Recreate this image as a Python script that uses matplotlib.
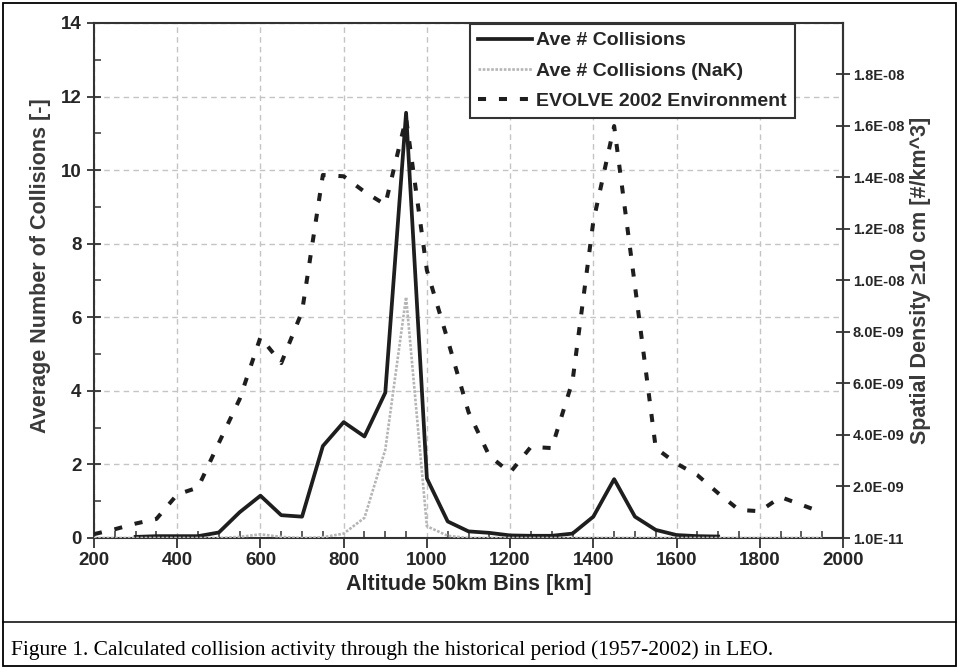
import matplotlib
matplotlib.use('Agg')
import matplotlib.pyplot as plt
import numpy as np
from matplotlib.lines import Line2D
from matplotlib.patches import Rectangle
from matplotlib.ticker import FixedLocator, FuncFormatter, MultipleLocator

# altitude bins (km)
altitude = list(range(200, 2000, 50))

# average number of collisions per bin (nan = not drawn)
ave_collisions = [np.nan, np.nan, 0.03, 0.05, 0.05, 0.05, 0.15, 0.7, 1.15, 0.62,
                  0.58, 2.5, 3.15, 2.76, 3.95, 11.56, 1.62, 0.45, 0.18, 0.14,
                  0.07, 0.06, 0.06, 0.12, 0.58, 1.6, 0.58, 0.22, 0.08, 0.05,
                  0.04, np.nan, np.nan, np.nan, np.nan, np.nan]

# average number of collisions, NaK
ave_collisions_nak = [0, 0, 0, 0, 0, 0, 0, 0.03, 0.1, 0.03,
                      0, 0.02, 0.12, 0.55, 2.4, 6.55, 0.32, 0.06, 0, 0,
                      0, 0, 0, 0, 0, 0, 0, 0, 0, 0,
                      0, 0, 0, 0, 0, 0]

# EVOLVE 2002 spatial density (x 1e-9 #/km^3)
evolve_density = [0.16, 0.35, 0.57, 0.75, 1.7, 1.97, 3.7, 5.4, 7.8, 6.8,
                  8.8, 14.1, 14.05, 13.45, 12.95, 16.3, 10.4, 7.7, 4.9, 3.2,
                  2.55, 3.55, 3.5, 6.1, 12.3, 16.0, 9.8, 3.5, 2.9, 2.45,
                  1.75, 1.1, 1.05, 1.6, 1.3, 1.0]

labels = ['Ave # Collisions', 'Ave # Collisions (NaK)', 'EVOLVE 2002 Environment']

plt.rcParams['font.family'] = ['Liberation Sans', 'DejaVu Sans']
txt = '#262626'

fig = plt.figure(figsize=(9.59, 6.69), dpi=100)
ax = fig.add_axes([94/959, 1 - 538/669, (843 - 94)/959, (538 - 23)/669])
ax2 = ax.twinx()

l1, = ax.plot(altitude, ave_collisions, color='#1e1e1e', lw=2.7, zorder=2.2)
l2, = ax.plot(altitude, ave_collisions_nak, color='#b5b5b5', lw=1.9,
              linestyle=(0, (1, 0.6)), zorder=3)
dens = [v * 1e-9 for v in evolve_density]
l3, = ax2.plot(altitude, dens, color='#1e1e1e', lw=2.9, linestyle=(0, (2.0, 3.2)))

ax.set_xlim(200, 2000)
ax.set_ylim(0, 14)
ax.xaxis.set_major_locator(MultipleLocator(200))
ax.xaxis.set_minor_locator(MultipleLocator(50))
ax.yaxis.set_major_locator(MultipleLocator(2))
ax.yaxis.set_minor_locator(MultipleLocator(1))
ax.grid(True, which='major', color='#c4c4c4', linestyle=(0, (4, 3)), lw=1)
ax.set_axisbelow(True)

ax.tick_params(axis='x', which='major', direction='out', length=7, width=1.3,
               color='#333333', labelsize=13.5, labelcolor=txt, pad=3)
ax.tick_params(axis='x', which='minor', direction='in', length=5, width=1.1, color='#333333')
ax.tick_params(axis='y', which='major', direction='inout', length=10, width=1.3,
               color='#333333', labelsize=13.5, labelcolor=txt, pad=4)
ax.tick_params(axis='y', which='minor', direction='in', length=5, width=1.1, color='#333333')
for t in ax.get_xticklabels() + ax.get_yticklabels():
    t.set_fontweight('bold')

ax2.set_ylim(1e-11, 2e-8)
ax2.yaxis.set_major_locator(FixedLocator([1e-11 + 2e-9 * k for k in range(10)]))
ax2.yaxis.set_major_formatter(FuncFormatter(lambda v, p: '%.1E' % v))
ax2.tick_params(axis='y', direction='inout', length=10, width=1.3, color='#333333',
                labelsize=10.5, labelcolor=txt, pad=2)
for t in ax2.get_yticklabels():
    t.set_fontweight('bold')
for s in ['bottom', 'left', 'top']:
    ax2.spines[s].set_visible(False)
for s in ax.spines.values():
    s.set_linewidth(1.5)
    s.set_color('#333333')
ax2.spines['right'].set_linewidth(1.5)
ax2.spines['right'].set_color('#333333')

ax.set_xlabel('Altitude 50km Bins [km]', fontsize=15.5, fontweight='bold', color=txt, labelpad=4)
ax.set_ylabel('Average Number of Collisions [-]', fontsize=15.5, fontweight='bold', color='#3a3a3a')
ax.yaxis.set_label_coords(-0.057, 0.528)
ax2.set_ylabel('Spatial Density \u226510 cm [#/km^3]', fontsize=15.5, fontweight='bold',
               color='#3a3a3a', labelpad=4)

leg = ax2.legend([l1, l2, l3], labels, loc='upper left',
                 bbox_to_anchor=(470/959, 1 - 24/669), bbox_transform=fig.transFigure,
                 prop={'weight': 'bold', 'size': 14}, fancybox=False, framealpha=1,
                 edgecolor='#333333', handlelength=2.8, handletextpad=0.2,
                 labelspacing=0.65, borderpad=0.4, borderaxespad=0)
leg.get_frame().set_linewidth(1.5)
for t in leg.get_texts():
    t.set_color(txt)

# caption and frame
fig.add_artist(Rectangle((3/959, 3/669), 953/959, 663/669, transform=fig.transFigure,
                         fill=False, lw=1.3, edgecolor='black'))
fig.add_artist(Line2D([3/959, 956/959], [1 - 622/669] * 2, transform=fig.transFigure,
                      lw=1.1, color='black'))
fig.text(11/959, 1 - 650/669,
         'Figure 1. Calculated collision activity through the historical period (1957-2002) in LEO.',
         family='Liberation Serif', fontsize=15.5, va='center', ha='left')

fig.savefig('out.png', dpi=100)
